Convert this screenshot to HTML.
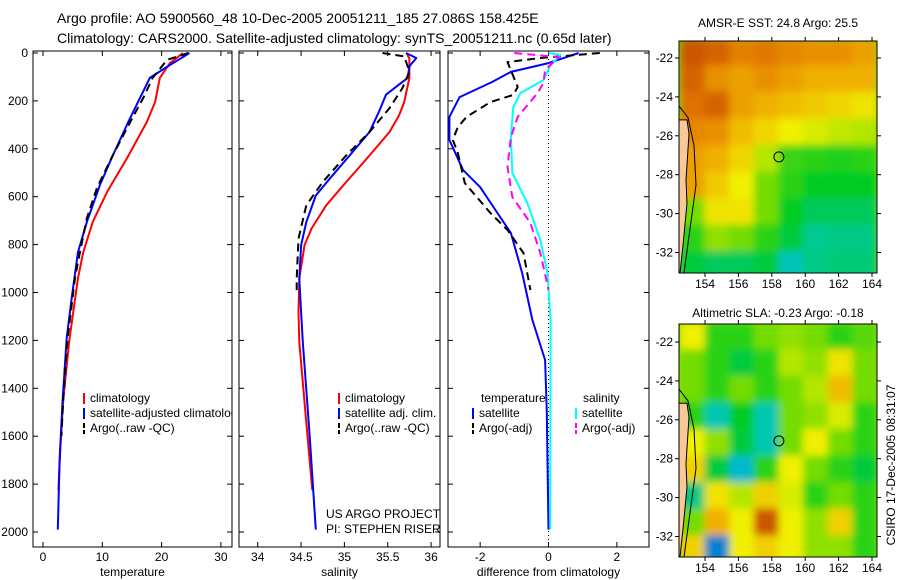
<!DOCTYPE html>
<html><head><meta charset="utf-8">
<style>
html,body{margin:0;padding:0;background:#fff;}
svg{display:block;font-family:"Liberation Sans",sans-serif;}
text{fill:#000;}
</style></head>
<body>
<svg id="fig" width="900" height="580" viewBox="0 0 900 580" xmlns="http://www.w3.org/2000/svg">
<defs>
<filter id="blur" x="0" y="0" width="1" height="1"><feGaussianBlur stdDeviation="4" edgeMode="duplicate"/></filter>
<clipPath id="clipM1"><rect x="679" y="41" width="198" height="232"/></clipPath>
<clipPath id="clipM2"><rect x="679" y="324" width="198" height="233"/></clipPath>
<clipPath id="clipP1"><rect x="33" y="51" width="199" height="496"/></clipPath>
<clipPath id="clipP2"><rect x="239" y="51" width="201" height="496"/></clipPath>
<clipPath id="clipP3"><rect x="448" y="51" width="201" height="496"/></clipPath>
</defs>
<text x="57" y="23" font-size="14">Argo profile: AO 5900560_48 10-Dec-2005 20051211_185 27.086S 158.425E</text>
<text x="57" y="43" font-size="14">Climatology: CARS2000. Satellite-adjusted climatology: synTS_20051211.nc (0.65d later)</text>
<text x="778" y="27" font-size="12" text-anchor="middle">AMSR-E SST: 24.8 Argo: 25.5</text>
<text x="778" y="317" font-size="12" text-anchor="middle">Altimetric SLA: -0.23 Argo: -0.18</text>
<text transform="translate(895,465) rotate(-90)" font-size="12" text-anchor="middle">CSIRO 17-Dec-2005 08:31:07</text>
<g id="plots"></g>
</svg>
<script>
// ---- data ----
const depthTicks = [0,200,400,600,800,1000,1200,1400,1600,1800,2000];
const tempTicks = [0,10,20,30];
const salTicks = [34,34.5,35,35.5,36];
const salTickLabels = ["34","34.5","35","35.5","36"];
const diffTicks = [-2,0,2];

const tempClimD = [0,42,104,205,288,438,580,705,831,940,1080,1207,1450,1660,1825];
const tempClimV = [23.6,21.4,19.7,18.9,17.5,14.2,10.8,8.4,6.8,5.9,5.1,4.4,3.4,2.9,2.6];
const tempSatD = [0,50,104,271,426,551,705,831,1010,1190,1450,1700,1990];
const tempSatV = [24.7,21.4,18,14.7,11.8,9.6,7.4,5.9,4.9,4,3.3,2.8,2.5];
const tempArgoD = [0,29,104,188,288,426,563,689,872,940,1200,1450,1600];
const tempArgoV = [24.5,20.9,18.5,16.9,14.7,11.8,9.1,7.4,5.9,5.4,4.1,3.4,3.1];

const salClimD = [0,10,23,104,205,261,330,428,539,636,733,803,942,1081,1207,1500,1825];
const salClimV = [35.72,35.73,35.75,35.75,35.69,35.63,35.52,35.29,35.02,34.79,34.62,34.54,34.48,34.47,34.48,34.55,34.63];
const salSatD = [0,21,56,104,132,174,244,330,428,525,595,706,803,942,1081,1207,1600,1990];
const salSatV = [35.71,35.83,35.75,35.73,35.63,35.48,35.4,35.29,35.06,34.83,34.67,34.56,34.5,34.48,34.5,34.52,34.6,34.67];
const salArgoD = [0,14,77,146,230,330,428,539,636,775,942,990];
const salArgoV = [35.44,35.69,35.75,35.67,35.52,35.29,35.02,34.75,34.56,34.47,34.45,34.45];

const dTempSatD = [0,42,79,121,184,267,363,488,560,752,919,1115,1282,1500,1990];
const dTempSatV = [0.88,0,-1.1,-1.65,-2.6,-2.9,-2.9,-2.5,-2,-1.1,-0.77,-0.47,-0.1,-0.05,0];
const dTempArgoD = [0,21,38,142,175,205,267,309,363,418,543,668,739,835,990];
const dTempArgoV = [1.5,-0.23,-1.2,-0.9,-1.03,-1.7,-2.4,-2.65,-2.8,-2.65,-2.45,-1.7,-1.2,-0.73,-0.53];
const dSalSatD = [0,8,50,113,167,226,351,501,626,781,919,1115,1990];
const dSalSatV = [0,0.35,0.06,-0.15,-0.82,-1.03,-1.1,-1.06,-0.62,-0.24,-0.03,0.06,0.05];
const dSalArgoD = [0,17,71,125,167,267,351,476,601,710,835,948,990];
const dSalArgoV = [-1.0,0.3,-0.1,-0.15,-0.32,-0.9,-1.1,-1.2,-1.06,-0.53,-0.24,-0.06,0];

const lonTicks = [154,156,158,160,162,164];
const latTicks = [-22,-24,-26,-28,-30,-32];
const sstGrid = [
 [0.92,0.9,0.86,0.87,0.85,0.84,0.84,0.82],
 [0.9,0.84,0.82,0.84,0.82,0.8,0.8,0.8],
 [0.88,0.9,0.82,0.8,0.78,0.76,0.74,0.72],
 [0.85,0.84,0.78,0.74,0.7,0.68,0.66,0.65],
 [0.82,0.8,0.74,0.65,0.56,0.55,0.54,0.55],
 [0.82,0.76,0.7,0.6,0.55,0.52,0.52,0.52],
 [0.6,0.72,0.72,0.6,0.52,0.48,0.48,0.48],
 [0.55,0.62,0.6,0.55,0.5,0.44,0.45,0.45],
 [0.5,0.48,0.48,0.5,0.4,0.45,0.46,0.46]];
const slaGrid = [
 [0.7,0.55,0.55,0.6,0.62,0.6,0.55,0.58],
 [0.6,0.55,0.5,0.55,0.65,0.62,0.72,0.6],
 [0.6,0.55,0.6,0.55,0.6,0.65,0.78,0.6],
 [0.55,0.42,0.52,0.42,0.6,0.62,0.68,0.55],
 [0.7,0.62,0.5,0.42,0.6,0.7,0.6,0.55],
 [0.75,0.5,0.35,0.55,0.7,0.6,0.55,0.5],
 [0.45,0.72,0.65,0.75,0.68,0.55,0.6,0.55],
 [0.6,0.8,0.7,0.92,0.7,0.62,0.75,0.55],
 [0.75,0.2,0.7,0.75,0.7,0.62,0.62,0.55]];
const floatLon = 158.425, floatLat = -27.086;

// ---- helpers ----
const NS = "http://www.w3.org/2000/svg";
const root = document.getElementById('plots');
function mk(tag, attrs, parent){ const e=document.createElementNS(NS,tag); for(const k in attrs) e.setAttribute(k,attrs[k]); (parent||root).appendChild(e); return e; }
const yD = d => 53 + d*0.2395;

function panel(name, x0, x1, xmin, xmax, ticks, tickLabels, xlabel, clip, showY){
  const xs = v => x0 + (v-xmin)/(xmax-xmin)*(x1-x0);
  const g = mk('g',{});
  
  
  const r = mk('rect',{x:x0,y:51,width:x1-x0,height:496,fill:'#fff',stroke:'#000','stroke-width':1},g);
  
  
  ticks.forEach((t,i)=>{
    const x = xs(t);
    mk('line',{x1:x,x2:x,y1:51,y2:56,stroke:'#000'},g);
    mk('line',{x1:x,x2:x,y1:547,y2:542,stroke:'#000'},g);
    const tl = mk('text',{x:x,y:561,'font-size':12,'text-anchor':'middle'},g);
    tl.textContent = tickLabels[i];
    
    
  });
  depthTicks.forEach(d=>{
    const y = yD(d);
    mk('line',{x1:x0,x2:x0+5,y1:y,y2:y,stroke:'#000'},g);
    mk('line',{x1:x1,x2:x1-5,y1:y,y2:y,stroke:'#000'},g);
    if(showY){
      const tl = mk('text',{x:x0-5,y:y+4,'font-size':12,'text-anchor':'end'},g);
      tl.textContent = d;
      
      
    }
  });
  const xl = mk('text',{x:(x0+x1)/2,y:576,'font-size':12,'text-anchor':'middle'},g);
  xl.textContent = xlabel;
  
  
  const lines = mk('g',{'clip-path':'url(#'+clip+')'},g);
  return {xs, g, lines};
}
function series(p, name, D, V, color, dash){
  const d = D.map((dd,i)=>(i?'L':'M')+p.xs(V[i]).toFixed(1)+','+yD(dd).toFixed(1)).join('');
  const a = {d:d,fill:'none',stroke:color,'stroke-width':2,'stroke-linejoin':'round'};
  if(dash) a['stroke-dasharray']='8,5';
  const e = mk('path',a,p.lines);
  
  
}
function legendItem(g, name, x, y, color, dash, label){
  const a = {x1:x,x2:x,y1:y-9,y2:y+2,stroke:color,'stroke-width':2};
  if(dash) a['stroke-dasharray']='5,2';
  mk('line',a,g);
  const t = mk('text',{x:x+6,y:y,'font-size':12},g);
  t.textContent = label;
  
  
}

// ---- panel 1: temperature ----
const p1 = panel('temperature-panel',33,232,-1.69,31.87,tempTicks,tempTicks.map(String),'temperature','clipP1',true);
series(p1,'temp-climatology-line',tempClimD,tempClimV,'#ff0000',false);
series(p1,'temp-satellite-line',tempSatD,tempSatV,'#0000ff',false);
series(p1,'temp-argo-line',tempArgoD,tempArgoV,'#000000',true);
const lg1 = mk('g',{'clip-path':'url(#clipP1)'});
legendItem(lg1,'legend-climatology',84,402,'#ff0000',false,'climatology');
legendItem(lg1,'legend-satellite-adjusted',84,417,'#0000ff',false,'satellite-adjusted climatology');
legendItem(lg1,'legend-argo',84,432,'#000000',true,'Argo(..raw -QC)');

// ---- panel 2: salinity ----
const p2 = panel('salinity-panel',239,440,33.784,36.103,salTicks,salTickLabels,'salinity','clipP2',false);
series(p2,'sal-climatology-line',salClimD,salClimV,'#ff0000',false);
series(p2,'sal-satellite-line',salSatD,salSatV,'#0000ff',false);
series(p2,'sal-argo-line',salArgoD,salArgoV,'#000000',true);
legendItem(p2.g,'legend-sal-climatology',339,402,'#ff0000',false,'climatology');
legendItem(p2.g,'legend-sal-satellite',339,417,'#0000ff',false,'satellite adj. clim.');
legendItem(p2.g,'legend-sal-argo',339,432,'#000000',true,'Argo(..raw -QC)');
const us = mk('text',{x:326,y:518,'font-size':12},p2.g); us.textContent='US ARGO PROJECT';


const pi = mk('text',{x:326,y:533,'font-size':12},p2.g); pi.textContent='PI: STEPHEN RISER';



// ---- panel 3: difference ----
const p3 = panel('difference-panel',448,649,-2.94,2.94,diffTicks,diffTicks.map(String),'difference from climatology','clipP3',false);
const z = p3.xs(0);
mk('line',{x1:z,x2:z,y1:51,y2:547,stroke:'#000','stroke-dasharray':'1,3'},p3.lines);
series(p3,'dtemp-satellite-line',dTempSatD,dTempSatV,'#0000ff',false);
series(p3,'dtemp-argo-line',dTempArgoD,dTempArgoV,'#000000',true);
series(p3,'dsal-satellite-line',dSalSatD,dSalSatV,'#00ffff',false);
series(p3,'dsal-argo-line',dSalArgoD,dSalArgoV,'#ff00ff',true);
const th = mk('text',{x:481,y:402,'font-size':12},p3.g); th.textContent='temperature';


const sh = mk('text',{x:583,y:402,'font-size':12},p3.g); sh.textContent='salinity';


legendItem(p3.g,'legend-dtemp-satellite',473,417,'#0000ff',false,'satellite');
legendItem(p3.g,'legend-dtemp-argo',473,432,'#000000',true,'Argo(-adj)');
legendItem(p3.g,'legend-dsal-satellite',576,417,'#00ffff',false,'satellite');
legendItem(p3.g,'legend-dsal-argo',576,432,'#ff00ff',true,'Argo(-adj)');

// ---- maps ----
const cstops = [[0,[0,40,176]],[0.3,[0,176,224]],[0.42,[0,200,176]],[0.52,[0,204,32]],[0.62,[144,224,0]],[0.7,[240,240,0]],[0.8,[240,176,0]],[0.88,[224,112,0]],[1,[160,32,0]]];
function cmap(v){
  for(let i=1;i<cstops.length;i++){
    if(v<=cstops[i][0]){
      const a=cstops[i-1], b=cstops[i], t=(v-a[0])/(b[0]-a[0]);
      const c=a[1].map((x,k)=>Math.round(x+(b[1][k]-x)*t));
      return 'rgb('+c.join(',')+')';
    }
  }
  return 'rgb(160,32,0)';
}
function drawMap(name, grid, top, bottom, lat22y, clip){
  const left=679, right=877;
  const xl = lon => 705 + 16.7*(lon-154);
  const yl = lat => lat22y + 19.45*(-lat-22);
  const lon0 = 152.5, lon1 = 164.3, lat0 = -21.0, lat1 = -33.3;
  const g = mk('g',{});
  
  
  const hm = mk('g',{'clip-path':'url(#'+clip+')'},g);
  mk('rect',{x:left,y:top,width:right-left,height:bottom-top,fill:cmap(0.62)},hm);
  const cells = mk('g',{filter:'url(#blur)'},hm);
  const nr = grid.length, nc = grid[0].length;
  const dlon=(lon1-lon0)/nc, dlat=(lat1-lat0)/nr;
  grid.forEach((row,r)=>row.forEach((v,c)=>{
    const x=xl(lon0+c*dlon), y=yl(lat0+r*dlat);
    const cell = mk('rect',{x:x.toFixed(1),y:y.toFixed(1),width:(16.7*dlon+0.5).toFixed(1),height:(-19.45*dlat+0.5).toFixed(1),fill:cmap(v)},cells);
    
    
  }));
  const h = bottom-top;
  const land = mk('path',{d:'M'+left+','+(top+h*0.34)+' L687,'+(top+h*0.34)+' L689,'+(top+h*0.4)+' L686,'+(top+h*0.6)+' L687,'+(top+h*0.7)+' L683,'+(top+h*0.88)+' L680,'+bottom+' L'+left+','+bottom+'Z',fill:'#f8c898',stroke:'#000','stroke-width':1},hm);
  
  
  mk('path',{d:'M'+left+','+(top+h*0.28)+' L688,'+(top+h*0.33)+' L694,'+(top+h*0.45)+' L696,'+(top+h*0.62)+' L684,'+bottom,fill:'none',stroke:'#000','stroke-width':1},hm);
  const fl = mk('circle',{cx:xl(floatLon),cy:yl(floatLat),r:5,fill:'none',stroke:'#000','stroke-width':1},g);
  
  
  mk('rect',{x:left,y:top,width:right-left,height:bottom-top,fill:'none',stroke:'#000'},g);
  lonTicks.forEach(lon=>{
    const x=xl(lon);
    mk('line',{x1:x,x2:x,y1:bottom,y2:bottom+4,stroke:'#000'},g);
    mk('line',{x1:x,x2:x,y1:top,y2:top-4,stroke:'#000'},g);
    const t=mk('text',{x:x,y:bottom+15,'font-size':12,'text-anchor':'middle'},g);
    t.textContent=lon;
    
    
  });
  latTicks.forEach(lat=>{
    const y=yl(lat);
    mk('line',{x1:left,x2:left-4,y1:y,y2:y,stroke:'#000'},g);
    mk('line',{x1:right,x2:right+4,y1:y,y2:y,stroke:'#000'},g);
    const t=mk('text',{x:left-6,y:y+4,'font-size':12,'text-anchor':'end'},g);
    t.textContent=lat;
    
    
  });
}
drawMap('sst-map', sstGrid, 41, 273, 58, 'clipM1');
drawMap('sla-map', slaGrid, 324, 557, 342, 'clipM2');
</script>
</body></html>
